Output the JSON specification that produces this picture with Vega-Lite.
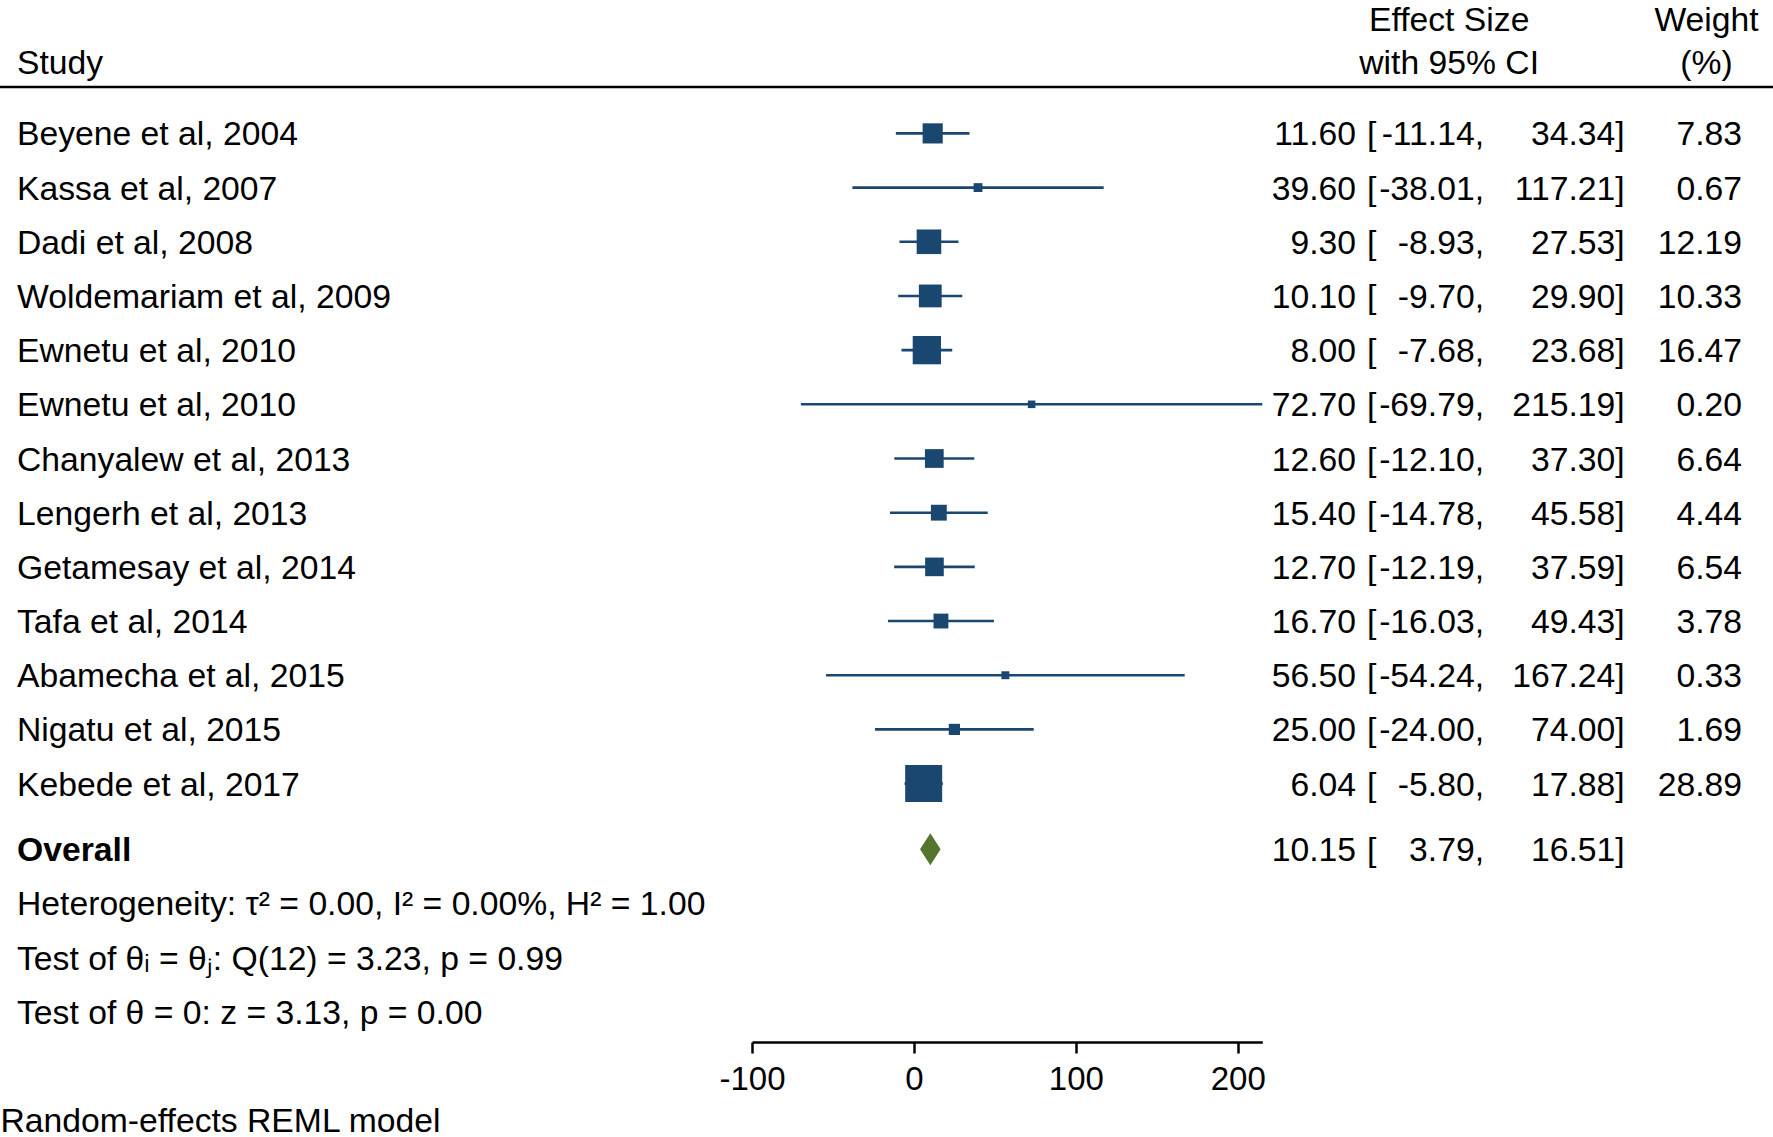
{
  "$schema": "https://vega.github.io/schema/vega-lite/v6.json",
  "width": 1773,
  "height": 1042,
  "autosize": {"type": "none"},
  "padding": {"left": 0, "top": 0, "right": 0, "bottom": 95},
  "background": "#ffffff",
  "config": {
    "font": "Liberation Sans",
    "view": {"stroke": null},
    "locale": {"number": {"decimal": ".", "thousands": ",", "grouping": [3], "currency": ["$", ""], "minus": "-"}},
    "text": {"font": "Liberation Sans", "fontSize": 33.7, "color": "#000000"}
  },
  "datasets": {
    "rows": [
      {"row": 1, "study": "Beyene et al, 2004", "es": 11.60, "lo": -11.14, "hi": 34.34, "w": 7.83},
      {"row": 2, "study": "Kassa et al, 2007", "es": 39.60, "lo": -38.01, "hi": 117.21, "w": 0.67},
      {"row": 3, "study": "Dadi et al, 2008", "es": 9.30, "lo": -8.93, "hi": 27.53, "w": 12.19},
      {"row": 4, "study": "Woldemariam et al, 2009", "es": 10.10, "lo": -9.70, "hi": 29.90, "w": 10.33},
      {"row": 5, "study": "Ewnetu et al, 2010", "es": 8.00, "lo": -7.68, "hi": 23.68, "w": 16.47},
      {"row": 6, "study": "Ewnetu et al, 2010", "es": 72.70, "lo": -69.79, "hi": 215.19, "w": 0.20},
      {"row": 7, "study": "Chanyalew et al, 2013", "es": 12.60, "lo": -12.10, "hi": 37.30, "w": 6.64},
      {"row": 8, "study": "Lengerh et al, 2013", "es": 15.40, "lo": -14.78, "hi": 45.58, "w": 4.44},
      {"row": 9, "study": "Getamesay et al, 2014", "es": 12.70, "lo": -12.19, "hi": 37.59, "w": 6.54},
      {"row": 10, "study": "Tafa et al, 2014", "es": 16.70, "lo": -16.03, "hi": 49.43, "w": 3.78},
      {"row": 11, "study": "Abamecha et al, 2015", "es": 56.50, "lo": -54.24, "hi": 167.24, "w": 0.33},
      {"row": 12, "study": "Nigatu et al, 2015", "es": 25.00, "lo": -24.00, "hi": 74.00, "w": 1.69},
      {"row": 13, "study": "Kebede et al, 2017", "es": 6.04, "lo": -5.80, "hi": 17.88, "w": 28.89},
      {"row": 14, "study": "Overall", "es": 10.15, "lo": 3.79, "hi": 16.51},
      {"row": 15, "study": "Heterogeneity: τ² = 0.00, I² = 0.00%, H² = 1.00"},
      {"row": 16, "study": "Test of θᵢ = θⱼ: Q(12) = 3.23, p = 0.99"},
      {"row": 17, "study": "Test of θ = 0: z = 3.13, p = 0.00"}
    ],
    "header": [
      {"row": 0, "col": "label", "text": "Study"},
      {"row": -1, "col": "lo", "text": "Effect Size"},
      {"row": 0, "col": "lo", "text": "with 95% CI"},
      {"row": -1, "col": "w", "text": "Weight"},
      {"row": 0, "col": "w", "text": "(%)"}
    ]
  },
  "data": {"name": "rows"},
  "encoding": {
    "y": {
      "field": "row",
      "type": "quantitative",
      "scale": {"domain": [-1, 0, 1, 13, 14, 17], "range": [21, 64, 133.4, 783.6, 849.2, 1011.8], "nice": false, "zero": false},
      "axis": null
    }
  },
  "layer": [
    {
      "transform": [{"filter": "isValid(datum.w)"}],
      "mark": {"type": "rule", "color": "#1a476f", "strokeWidth": 2.6},
      "encoding": {
        "x": {
          "field": "lo",
          "type": "quantitative",
          "scale": {"domain": [-100, 215.19], "range": [752, 1262.3], "nice": false, "zero": false},
          "axis": {
            "orient": "bottom",
            "values": [-100, 0, 100, 200],
            "title": "Random-effects REML model",
            "titleAnchor": "start",
            "titleAlign": "left",
            "titleBaseline": "middle",
            "titleX": 0,
            "titleY": 79,
            "titleFont": "Liberation Sans",
            "titleFontSize": 33.7,
            "titleFontWeight": "normal",
            "titleColor": "#000000",
            "grid": false,
            "domainColor": "#000000",
            "domainWidth": 2.5,
            "tickColor": "#000000",
            "tickWidth": 2.5,
            "tickSize": 11,
            "labelFont": "Liberation Sans",
            "labelFontSize": 33,
            "labelColor": "#000000",
            "labelPadding": 10,
            "labelFlush": false,
            "labelOverlap": false,
            "labelBound": false
          }
        },
        "x2": {"field": "hi"}
      }
    },
    {
      "transform": [{"filter": "isValid(datum.w)"}],
      "mark": {"type": "point", "shape": "square", "filled": true, "color": "#1a476f", "opacity": 1},
      "encoding": {
        "x": {"field": "es", "type": "quantitative", "scale": {"domain": [-100, 215.19], "range": [752, 1262.3], "nice": false, "zero": false}, "axis": null},
        "size": {"field": "w", "type": "quantitative", "scale": {"domain": [0, 28.89], "range": [48, 1369]}, "legend": null}
      }
    },
    {
      "transform": [{"filter": "datum.row == 14"}],
      "mark": {"type": "point", "shape": "M-0.644,0L0,-1L0.644,0L0,1Z", "size": 1024, "filled": true, "color": "#55752f", "opacity": 1},
      "encoding": {
        "x": {"field": "es", "type": "quantitative", "scale": {"domain": [-100, 215.19], "range": [752, 1262.3], "nice": false, "zero": false}, "axis": null}
      }
    },
    {
      "layer": [
        {
          "transform": [{"filter": "datum.row != 14"}],
          "mark": {"type": "text", "align": "left", "baseline": "middle", "dy": 2},
          "encoding": {
            "x": {"datum": "label", "type": "nominal", "scale": {"type": "point", "domain": ["label"], "range": [17, 17], "padding": 0}, "axis": null},
            "text": {"field": "study", "type": "nominal"}
          }
        },
        {
          "transform": [{"filter": "datum.row == 14"}],
          "mark": {"type": "text", "align": "left", "baseline": "middle", "dy": 2, "fontWeight": "bold"},
          "encoding": {
            "x": {"datum": "label", "type": "nominal", "axis": null},
            "text": {"field": "study", "type": "nominal"}
          }
        },
        {
          "data": {"name": "header"},
          "transform": [{"filter": "datum.col == 'label'"}],
          "mark": {"type": "text", "align": "left", "baseline": "middle"},
          "encoding": {
            "x": {"field": "col", "type": "nominal", "axis": null},
            "text": {"field": "text", "type": "nominal"}
          }
        }
      ]
    },
    {
      "layer": [
        {
          "transform": [{"filter": "isValid(datum.es)"}],
          "mark": {"type": "text", "align": "right", "baseline": "middle", "dy": 2},
          "encoding": {
            "x": {"datum": "es", "type": "nominal", "scale": {"type": "point", "domain": ["es", "lo", "hi", "w"], "range": [1356, 1742], "padding": 0}, "axis": null},
            "text": {"field": "es", "type": "quantitative", "format": ".2f"}
          }
        },
        {
          "transform": [{"filter": "isValid(datum.es)"}],
          "mark": {"type": "text", "align": "left", "baseline": "middle", "dy": 2, "dx": 11},
          "encoding": {
            "x": {"datum": "es", "type": "nominal", "axis": null},
            "text": {"value": "["}
          }
        },
        {
          "transform": [{"filter": "isValid(datum.lo)"}],
          "mark": {"type": "text", "align": "right", "baseline": "middle", "dy": 2, "dx": -10},
          "encoding": {
            "x": {"datum": "lo", "type": "nominal", "axis": null},
            "text": {"field": "lo", "type": "quantitative", "format": ".2f"}
          }
        },
        {
          "transform": [{"filter": "isValid(datum.lo)"}],
          "mark": {"type": "text", "align": "left", "baseline": "middle", "dy": 2, "dx": -10},
          "encoding": {
            "x": {"datum": "lo", "type": "nominal", "axis": null},
            "text": {"value": ","}
          }
        },
        {
          "transform": [{"filter": "isValid(datum.hi)"}],
          "mark": {"type": "text", "align": "right", "baseline": "middle", "dy": 2, "dx": 2},
          "encoding": {
            "x": {"datum": "hi", "type": "nominal", "axis": null},
            "text": {"field": "hi", "type": "quantitative", "format": ".2f"}
          }
        },
        {
          "transform": [{"filter": "isValid(datum.hi)"}],
          "mark": {"type": "text", "align": "left", "baseline": "middle", "dy": 2, "dx": 2},
          "encoding": {
            "x": {"datum": "hi", "type": "nominal", "axis": null},
            "text": {"value": "]"}
          }
        },
        {
          "transform": [{"filter": "isValid(datum.w)"}],
          "mark": {"type": "text", "align": "right", "baseline": "middle", "dy": 2},
          "encoding": {
            "x": {"datum": "w", "type": "nominal", "axis": null},
            "text": {"field": "w", "type": "quantitative", "format": ".2f"}
          }
        },
        {
          "data": {"name": "header"},
          "transform": [{"filter": "datum.col != 'label'"}],
          "mark": {"type": "text", "align": "center", "baseline": "middle", "dx": -35.5},
          "encoding": {
            "x": {"field": "col", "type": "nominal", "axis": null},
            "text": {"field": "text", "type": "nominal"}
          }
        }
      ]
    },
    {
      "data": {"name": "header"},
      "transform": [{"filter": "datum.col == 'label'"}],
      "mark": {"type": "rule", "color": "#000000", "strokeWidth": 2.6, "yOffset": 23},
      "encoding": {
        "y": {"field": "row", "type": "quantitative"}
      }
    }
  ],
  "resolve": {"scale": {"x": "independent"}}
}
